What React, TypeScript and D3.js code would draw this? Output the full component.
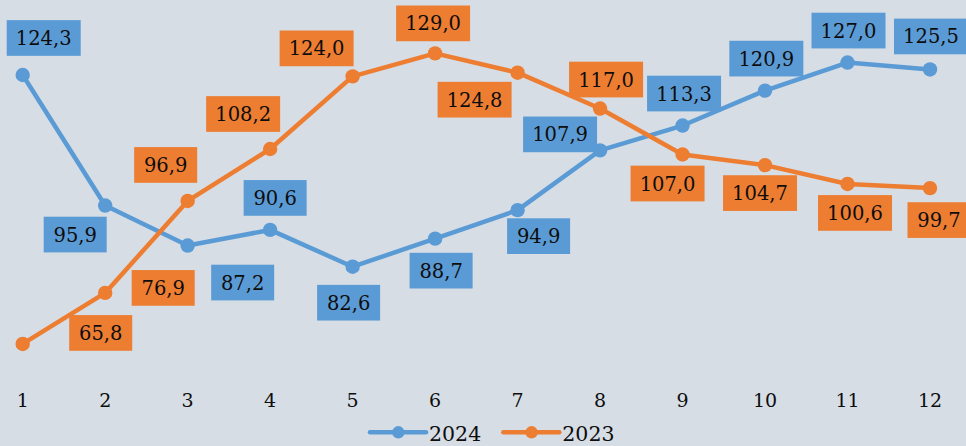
import React from "react";
import * as d3 from "d3";

const months = ["1", "2", "3", "4", "5", "6", "7", "8", "9", "10", "11", "12"];
const values2024 = [124.3, 95.9, 87.2, 90.6, 82.6, 88.7, 94.9, 107.9, 113.3, 120.9, 127.0, 125.5];
const values2023 = [65.8, 76.9, 96.9, 108.2, 124.0, 129.0, 124.8, 117.0, 107.0, 104.7, 100.6, 99.7];
const seriesNames = ["2024", "2023"];

// label placement offsets (style, px) relative to each point
const offsets2024: [number, number][] = [
  [21, -37], [-30, 29], [55, 37], [5, -32], [-4, 36], [6, 32],
  [21, 26], [-40, -16], [1.5, -32], [1.3, -32], [1, -32], [1, -33],
];
const offsets2023: [number, number][] = [
  [78, -11], [58, -5], [-22, -36], [-27, -35], [-36, -28], [-2, -30],
  [-43, 27], [6, -29], [-15, 29], [-5, 28], [7.5, 29], [9, 32],
];

const W = 966;
const H = 446;
const BLUE = "#5b9bd5";
const ORANGE = "#ed7d31";
const BG = "#d6dde5";
const FONT = "'DejaVu Serif', Georgia, serif";

const fmt = (v: number) => v.toFixed(1).replace(".", ",");

export default function App() {
  const x = d3.scalePoint<string>().domain(months).range([22.7, 930]);
  const y = d3.scaleLinear().domain([60, 140]).range([370.6, 2.8]);
  const line = d3
    .line<number>()
    .x((_, i) => x(months[i]) as number)
    .y((d) => y(d));

  const series = [
    { name: seriesNames[0], values: values2024, color: BLUE, offsets: offsets2024 },
    { name: seriesNames[1], values: values2023, color: ORANGE, offsets: offsets2023 },
  ];

  const boxH = 35.7;
  const boxW = (s: string) => (s.length >= 5 ? 74 : 63);

  return (
    <svg
      width={W}
      height={H}
      style={{ position: "absolute", left: 0, top: 0, display: "block" }}
      fontFamily={FONT}
    >
      <rect x={0} y={0} width={W} height={H} fill={BG} />
      {series.map((s) => (
        <g key={s.name}>
          <path d={line(s.values) || ""} fill="none" stroke={s.color} strokeWidth={4.5} strokeLinejoin="round" />
          {s.values.map((v, i) => (
            <circle key={i} cx={x(months[i])} cy={y(v)} r={7.2} fill={s.color} />
          ))}
        </g>
      ))}
      {series.map((s) => (
        <g key={s.name + "-labels"}>
          {s.values.map((v, i) => {
            const cx = (x(months[i]) as number) + s.offsets[i][0];
            const cy = y(v) + s.offsets[i][1];
            const t = fmt(v);
            const w = boxW(t);
            return (
              <g key={i}>
                <rect x={cx - w / 2} y={cy - boxH / 2} width={w} height={boxH} fill={s.color} />
                <text x={cx} y={cy + 7} textAnchor="middle" fontSize={19.5} fill="#0d0d0d">
                  {t}
                </text>
              </g>
            );
          })}
        </g>
      ))}
      {months.map((m) => (
        <text key={m} x={x(m)} y={407} textAnchor="middle" fontSize={19} fill="#0d0d0d">
          {m}
        </text>
      ))}
      {series.map((s, i) => {
        const lx = 370 + i * 133.3;
        return (
          <g key={s.name + "-legend"}>
            <line x1={lx} x2={lx + 56} y1={432.3} y2={432.3} stroke={s.color} strokeWidth={4.5} strokeLinecap="round" />
            <circle cx={lx + 28.3} cy={432.3} r={6.2} fill={s.color} />
            <text x={lx + 59} y={441} fontSize={20.5} fill="#0d0d0d">
              {s.name}
            </text>
          </g>
        );
      })}
    </svg>
  );
}
